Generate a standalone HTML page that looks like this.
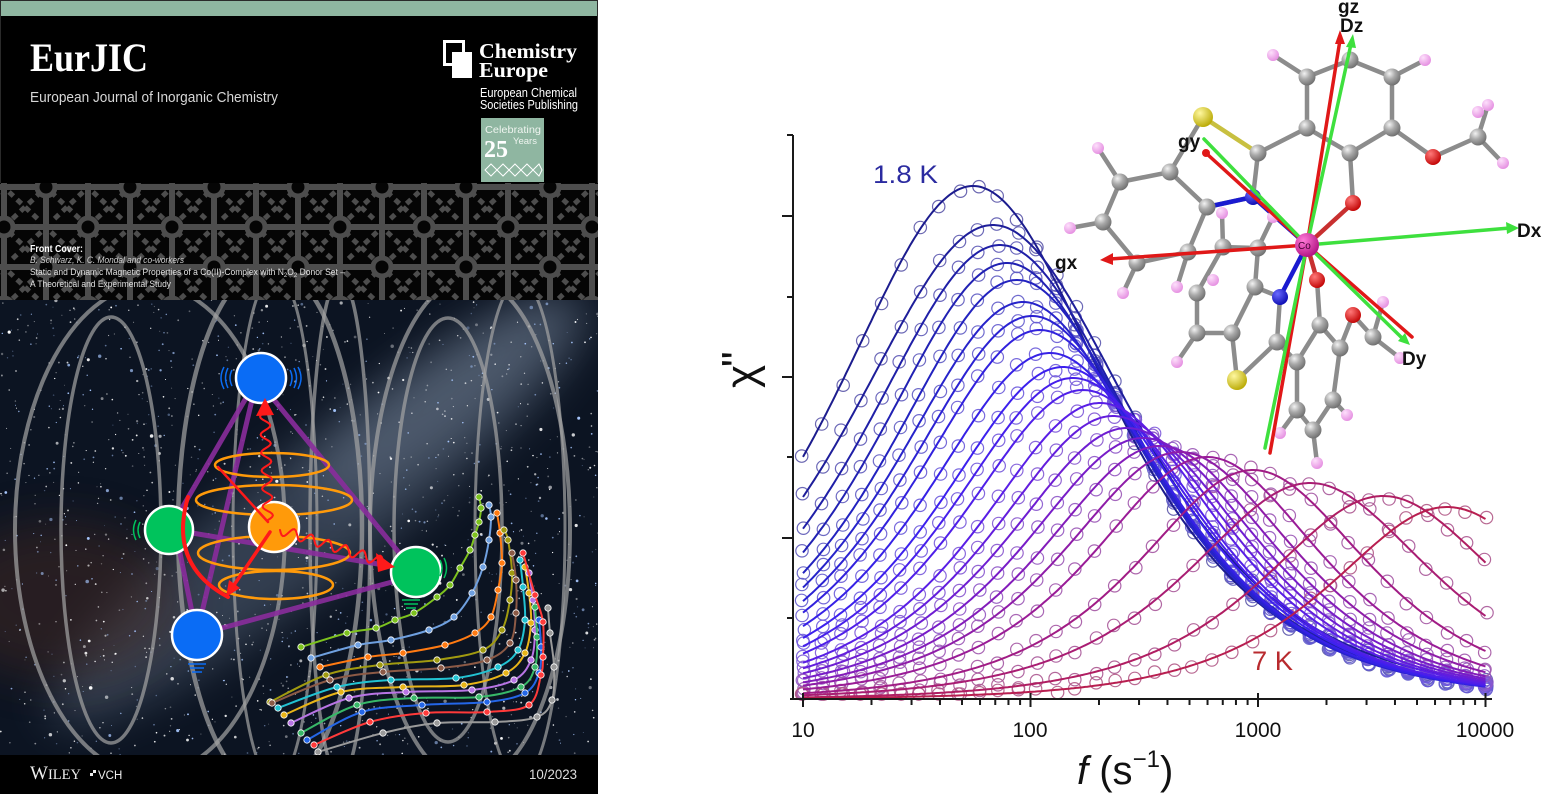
<!DOCTYPE html>
<html><head><meta charset="utf-8">
<style>
html,body{margin:0;padding:0;background:#fff;}
body{width:1547px;height:794px;overflow:hidden;}
svg{display:block;}
text{font-family:"Liberation Sans",sans-serif;}
.serif{font-family:"Liberation Serif",serif;}
</style></head><body>
<svg id="s" width="1547" height="794" viewBox="0 0 1547 794" xmlns="http://www.w3.org/2000/svg">
<defs>
 <pattern id="lat" x="4" y="187" width="84" height="80" patternUnits="userSpaceOnUse">
  <rect width="84" height="80" fill="#050505"/>
  <g stroke="#4d4d4d" stroke-width="5" stroke-dasharray="6 5" fill="none">
   <line x1="5" y1="5" x2="37" y2="35"/><line x1="37" y1="5" x2="5" y2="35"/>
   <line x1="47" y1="5" x2="79" y2="35"/><line x1="79" y1="5" x2="47" y2="35"/>
   <line x1="5" y1="45" x2="37" y2="75"/><line x1="37" y1="45" x2="5" y2="75"/>
   <line x1="47" y1="45" x2="79" y2="75"/><line x1="79" y1="45" x2="47" y2="75"/>
  </g>
  <g stroke="#4d4d4d" stroke-width="6" fill="none">
   <line x1="0" y1="0" x2="84" y2="0"/><line x1="0" y1="40" x2="84" y2="40"/><line x1="0" y1="80" x2="84" y2="80"/>
   <line x1="0" y1="0" x2="0" y2="80"/><line x1="42" y1="0" x2="42" y2="80"/><line x1="84" y1="0" x2="84" y2="80"/>
  </g>
  <g stroke="#4d4d4d" stroke-width="5" fill="#050505">
   <circle cx="0" cy="40" r="9"/><circle cx="84" cy="40" r="9"/>
   <circle cx="42" cy="0" r="9"/><circle cx="42" cy="80" r="9"/>
  </g>
 </pattern>
 <clipPath id="starclip"><rect x="0" y="300" width="598" height="455"/></clipPath>
 <filter id="blur" x="-50%" y="-50%" width="200%" height="200%"><feGaussianBlur stdDeviation="22"/></filter>
 <radialGradient id="gC" cx="35%" cy="30%" r="75%"><stop offset="0" stop-color="#f2f2f2"/><stop offset="0.45" stop-color="#a9a9a9"/><stop offset="1" stop-color="#6c6c6c"/></radialGradient>
 <radialGradient id="gH" cx="35%" cy="30%" r="75%"><stop offset="0" stop-color="#fde0fb"/><stop offset="1" stop-color="#e48ce0"/></radialGradient>
 <radialGradient id="gS" cx="35%" cy="30%" r="75%"><stop offset="0" stop-color="#fff8a0"/><stop offset="1" stop-color="#b8a800"/></radialGradient>
 <radialGradient id="gN" cx="35%" cy="30%" r="75%"><stop offset="0" stop-color="#6a6aff"/><stop offset="1" stop-color="#0a0ab0"/></radialGradient>
 <radialGradient id="gO" cx="35%" cy="30%" r="75%"><stop offset="0" stop-color="#ff7a7a"/><stop offset="1" stop-color="#c00000"/></radialGradient>
 <radialGradient id="gCo" cx="35%" cy="30%" r="75%"><stop offset="0" stop-color="#ff7ad8"/><stop offset="1" stop-color="#b01080"/></radialGradient>
</defs>

<!-- ================= COVER ================= -->
<rect x="0" y="0" width="598" height="794" fill="#000"/>
<rect x="0" y="0" width="598" height="16" fill="#8fb6a1"/>
<rect x="0.5" y="0.5" width="597" height="793" fill="none" stroke="#2a2a2a" stroke-width="1"/>
<text x="30" y="71" class="serif" font-size="40" font-weight="bold" fill="#fff" textLength="118" lengthAdjust="spacingAndGlyphs">EurJIC</text>
<text x="30" y="102" font-size="14.5" fill="#d6d6d6" textLength="248" lengthAdjust="spacingAndGlyphs">European Journal of Inorganic Chemistry</text>
<rect x="444.5" y="41.5" width="19" height="23" fill="none" stroke="#fff" stroke-width="3"/>
<rect x="452" y="52" width="20" height="26" fill="#fff"/>
<text x="479" y="58" class="serif" font-size="21" font-weight="bold" fill="#fff" textLength="98" lengthAdjust="spacingAndGlyphs">Chemistry</text>
<text x="479" y="77" class="serif" font-size="21" font-weight="bold" fill="#fff" textLength="69" lengthAdjust="spacingAndGlyphs">Europe</text>
<text x="480" y="97" font-size="12.5" fill="#fff" textLength="97" lengthAdjust="spacingAndGlyphs">European Chemical</text>
<text x="480" y="109" font-size="12.5" fill="#fff" textLength="98" lengthAdjust="spacingAndGlyphs">Societies Publishing</text>
<rect x="481" y="118" width="63" height="64" fill="#8fb6a1"/>
<text x="485" y="133" font-size="10.5" fill="#eef4ef" textLength="56" lengthAdjust="spacingAndGlyphs">Celebrating</text>
<text x="484" y="157" class="serif" font-size="24" font-weight="bold" fill="#fff">25</text>
<text x="513" y="144" font-size="9.5" fill="#eef4ef">Years</text>
<g fill="none" stroke="#fff" stroke-width="1">
 <polygon points="491,164 497,170 491,176 485,170"/><polygon points="503,164 509,170 503,176 497,170"/>
 <polygon points="515,164 521,170 515,176 509,170"/><polygon points="527,164 533,170 527,176 521,170"/>
 <polygon points="539,164 542,170 539,176 533,170"/>
</g>

<rect x="0" y="183" width="598" height="117" fill="url(#lat)"/>
<text x="30" y="252" font-size="10" font-weight="bold" fill="#fff" textLength="53" lengthAdjust="spacingAndGlyphs">Front Cover:</text>
<text x="30" y="263" font-size="9.5" font-style="italic" fill="#d0d0d0" textLength="154" lengthAdjust="spacingAndGlyphs">B. Schwarz, K. C. Mondal and co-workers</text>
<text x="30" y="275" font-size="9.2" fill="#e0e0e0" textLength="315" lengthAdjust="spacingAndGlyphs">Static and Dynamic Magnetic Properties of a Co(II)-Complex with N<tspan font-size="6.5" dy="2">2</tspan><tspan dy="-2">O</tspan><tspan font-size="6.5" dy="2">2</tspan><tspan dy="-2"> Donor Set –</tspan></text>
<text x="30" y="287" font-size="9.2" fill="#e0e0e0" textLength="141" lengthAdjust="spacingAndGlyphs">A Theoretical and Experimental Study</text>

<g clip-path="url(#starclip)">
 <rect x="0" y="300" width="598" height="455" fill="#0c1422"/>
 <ellipse cx="320" cy="510" rx="340" ry="65" transform="rotate(-38 320 510)" fill="#7d8ea6" opacity="0.35" filter="url(#blur)"/>
 <ellipse cx="440" cy="400" rx="160" ry="40" transform="rotate(-38 440 400)" fill="#9aaac0" opacity="0.25" filter="url(#blur)"/>
 <ellipse cx="60" cy="600" rx="120" ry="80" fill="#4a2c22" opacity="0.45" filter="url(#blur)"/>
 <g id="stars"></g>
 <g fill="none" stroke="#a4a4a4" stroke-opacity="0.7">
  <ellipse cx="111" cy="530" rx="50" ry="213" stroke-width="3.5"/>
  <ellipse cx="150" cy="530" rx="135" ry="245" stroke-width="4"/>
  <ellipse cx="270" cy="528" rx="92" ry="262" stroke-width="4.5"/>
  <ellipse cx="275" cy="528" rx="42" ry="255" stroke-width="3"/>
  <ellipse cx="340" cy="528" rx="30" ry="250" stroke-width="3.5"/>
  <ellipse cx="448" cy="530" rx="54" ry="212" stroke-width="3.5"/>
  <ellipse cx="470" cy="530" rx="100" ry="252" stroke-width="4"/>
  <ellipse cx="520" cy="530" rx="45" ry="250" stroke-width="3"/>
 </g>
 <g stroke="#8a2c9c" stroke-width="5" stroke-opacity="0.9" stroke-linecap="round">
  <line x1="270" y1="395" x2="405" y2="560"/>
  <line x1="252" y1="400" x2="202" y2="612"/>
  <line x1="246" y1="398" x2="182" y2="508"/>
  <line x1="180" y1="553" x2="192" y2="612"/>
  <line x1="222" y1="628" x2="392" y2="582"/>
  <line x1="192" y1="533" x2="390" y2="566"/>
 </g>
 <g fill="none" stroke="#ff9a0a" stroke-width="2.5">
  <ellipse cx="272" cy="465" rx="57" ry="12"/>
  <ellipse cx="274" cy="500" rx="78" ry="15"/>
  <ellipse cx="274" cy="553" rx="76" ry="17"/>
  <ellipse cx="276" cy="585" rx="57" ry="14"/>
 </g>
 <circle cx="261" cy="378" r="25" fill="#0a6cf5" stroke="#fff" stroke-width="2.5"/>
 <circle cx="169" cy="530" r="24" fill="#00c35c" stroke="#fff" stroke-width="2.5"/>
 <circle cx="274" cy="527" r="25" fill="#ff9a0a" stroke="#fff" stroke-width="2.5"/>
 <circle cx="416" cy="572" r="25" fill="#00c35c" stroke="#fff" stroke-width="2.5"/>
 <circle cx="197" cy="635" r="25" fill="#0a6cf5" stroke="#fff" stroke-width="2.5"/>
 <g fill="none" stroke="#0a6cf5" stroke-width="1.5">
  <path d="M232,370 q-4,8 0,16 M228,368 q-5,10 0,20 M224,367 q-6,11 0,22"/>
  <path d="M290,370 q4,8 0,16 M294,368 q5,10 0,20 M298,367 q6,11 0,22"/>
  <path d="M188,664 h18 M190,668 h14 M192,672 h10"/>
 </g>
 <g fill="none" stroke="#00c35c" stroke-width="1.5">
  <path d="M140,522 q-4,8 0,16 M136,520 q-5,10 0,20"/>
  <path d="M440,560 q4,8 0,16 M444,558 q5,10 0,20"/>
  <path d="M402,600 h18 M404,604 h14 M406,608 h10"/>
 </g>
 <g id="redfx" stroke="#ff1a1a" fill="none" stroke-linecap="round">
  <path d="M188,497 Q168,565 228,597" stroke-width="4"/>
  <line x1="270" y1="532" x2="232" y2="588" stroke-width="3.5"/>
  <line x1="268" y1="522" x2="218" y2="467" stroke-width="2.5"/>
 </g>
 <polygon points="226,597 229,580 240,588" fill="#ff1a1a"/>
 <polygon points="265,398 256,416 274,415" fill="#ff1a1a"/>
 <polygon points="395,567 376,553 378,572" fill="#ff1a1a"/>
 <g id="colcurves"></g>
</g>

<rect x="0" y="755" width="598" height="39" fill="#000"/>
<text x="30" y="779" class="serif" font-size="19" fill="#eee">W<tspan font-size="14.5">ILEY</tspan></text>
<rect x="90" y="773" width="3" height="3" fill="#eee"/><rect x="93" y="770" width="3" height="3" fill="#eee"/>
<text x="98" y="779" font-size="11.5" fill="#eee">VCH</text>
<text x="529" y="779" font-size="14" fill="#ddd" textLength="48" lengthAdjust="spacingAndGlyphs">10/2023</text>

<!-- ================= CHART ================= -->
<g id="markers"></g>
<g id="lines"></g>
<g stroke="#1a1a1a" stroke-width="2" fill="none">
 <line x1="793" y1="135" x2="793" y2="700"/>
 <line x1="790" y1="699" x2="1492" y2="699"/>
 <line x1="787" y1="135" x2="793" y2="135"/>
 <line x1="782" y1="216" x2="793" y2="216"/>
 <line x1="787" y1="297" x2="793" y2="297"/>
 <line x1="782" y1="377" x2="793" y2="377"/>
 <line x1="787" y1="457" x2="793" y2="457"/>
 <line x1="782" y1="538" x2="793" y2="538"/>
 <line x1="787" y1="618" x2="793" y2="618"/>
</g>
<g id="xticks" stroke="#1a1a1a" stroke-width="2"></g>
<g font-size="21" fill="#111" text-anchor="middle">
 <text x="803" y="737">10</text>
 <text x="1030" y="737">100</text>
 <text x="1258" y="737">1000</text>
 <text x="1485" y="737">10000</text>
</g>
<text x="1077" y="784" font-size="40" fill="#111"><tspan font-style="italic">f</tspan> (s<tspan font-size="24" dy="-17">−1</tspan><tspan dy="17">)</tspan></text>
<text transform="translate(756,388) rotate(-90)" font-size="44" fill="#111">χ</text>
<text transform="translate(752,367) rotate(-90)" font-size="44" fill="#111">"</text>
<text x="873" y="183" font-size="25" fill="#2b2ba0" textLength="65" lengthAdjust="spacingAndGlyphs">1.8 K</text>
<text x="1252" y="670" font-size="27" fill="#b82a2e" textLength="41" lengthAdjust="spacingAndGlyphs">7 K</text>

<!-- ================= MOLECULE ================= -->
<g stroke="#8c8c8c" stroke-width="4.5" stroke-linecap="round" fill="none">
 <path d="M1307,77 L1350,60 L1392,77 L1392,128 L1350,153 L1307,128 Z"/>
 <path d="M1307,128 L1258,153 M1258,153 L1253,197 M1350,153 L1353,203 M1392,128 L1433,157 L1478,137"/>
 <path d="M1253,197 L1207,207 L1170,172 L1120,182 L1103,222 L1137,263 L1188,252 L1207,207 M1170,172 L1203,117"/>
 <path d="M1280,297 L1255,287 L1258,248 L1223,247 L1197,293 L1197,333 L1232,333 L1255,287 M1232,333 L1237,380 L1277,342 L1280,297 M1277,342 L1297,362"/>
 <path d="M1297,362 L1320,325 L1340,348 L1333,400 L1313,430 L1297,410 Z M1320,325 L1317,280 M1340,348 L1353,315 L1373,337"/>
 <path d="M1307,77 L1273,55 M1392,77 L1425,60 M1478,137 L1488,105 M1478,137 L1503,163 M1120,182 L1098,148 M1103,222 L1070,228 M1137,263 L1123,293 M1188,252 L1177,287 M1223,247 L1222,213 M1258,248 L1273,217 M1197,333 L1177,362 M1373,337 L1383,302 M1373,337 L1400,358 M1333,400 L1347,415 M1297,410 L1280,433 M1313,430 L1317,463"/>
</g>
<g stroke-width="4.5" stroke-linecap="round">
 <line x1="1258" y1="153" x2="1203" y2="117" stroke="#c8c040"/>
 <line x1="1307" y1="245" x2="1253" y2="197" stroke="#1a1ad0"/>
 <line x1="1307" y1="245" x2="1353" y2="203" stroke="#c83030"/>
 <line x1="1307" y1="245" x2="1280" y2="297" stroke="#1a1ad0"/>
 <line x1="1307" y1="245" x2="1317" y2="280" stroke="#c83030"/>
 <line x1="1253" y1="197" x2="1207" y2="207" stroke="#1a1ad0"/>
</g>
<g id="atoms"></g>
<g stroke-width="3.5" stroke-linecap="round">
 <line x1="1307" y1="245" x2="1340" y2="40" stroke="#e01818"/>
 <line x1="1307" y1="245" x2="1351" y2="44" stroke="#3ee03e"/>
 <line x1="1307" y1="245" x2="1270" y2="453" stroke="#e01818"/>
 <line x1="1307" y1="245" x2="1265" y2="448" stroke="#3ee03e"/>
 <line x1="1307" y1="245" x2="1110" y2="259" stroke="#e01818"/>
 <line x1="1307" y1="245" x2="1510" y2="228" stroke="#3ee03e"/>
 <line x1="1307" y1="245" x2="1207" y2="154" stroke="#e01818"/>
 <line x1="1307" y1="245" x2="1204" y2="139" stroke="#3ee03e"/>
 <line x1="1307" y1="245" x2="1412" y2="337" stroke="#e01818"/>
 <line x1="1307" y1="245" x2="1402" y2="338" stroke="#3ee03e"/>
</g>
<polygon points="1340,30 1335,44 1345,44" fill="#e01818"/>
<polygon points="1353,34 1346,47 1356,48" fill="#3ee03e"/>
<polygon points="1100,260 1113,253 1113,265" fill="#e01818"/>
<polygon points="1519,228 1506,222 1507,234" fill="#3ee03e"/>
<polygon points="1410,345 1398,341 1405,333" fill="#3ee03e"/>
<circle cx="1206" cy="153" r="4" fill="#e01818"/>
<circle cx="1307" cy="245" r="12" fill="url(#gCo)"/>
<text x="1298" y="249" font-size="10" fill="#400030">Co</text>
<g font-size="19" font-weight="bold" fill="#111">
 <text x="1055" y="269">gx</text>
 <text x="1178" y="148">gy</text>
 <text x="1338" y="13">gz</text>
 <text x="1340" y="32">Dz</text>
 <text x="1517" y="237">Dx</text>
 <text x="1402" y="365">Dy</text>
</g>
</svg>
<script>
(function(){
var NS='http://www.w3.org/2000/svg';
function E(tag,a,p){var e=document.createElementNS(NS,tag);for(var k in a)e.setAttribute(k,a[k]);p.appendChild(e);return e;}
var seed=987654;
function rnd(){seed|=0;seed=seed+0x6D2B79F5|0;var t=Math.imul(seed^seed>>>15,1|seed);t=t+Math.imul(t^t>>>7,61|t)^t;return((t^t>>>14)>>>0)/4294967296;}
// stars
var sg=document.getElementById('stars');
for(var i=0;i<1500;i++){
 var x=rnd()*598,y=300+rnd()*455;
 var r=rnd()<0.88?0.45+rnd()*0.5:0.9+rnd()*0.9;
 E('circle',{cx:x.toFixed(1),cy:y.toFixed(1),r:r.toFixed(2),fill:rnd()<0.65?'#ffffff':'#a8c8ff','fill-opacity':(0.3+rnd()*0.7).toFixed(2)},sg);
}
// wavy red arrows
var rf=document.getElementById('redfx');
function wavy(x1,y1,x2,y2,amp,wl){
 var dx=x2-x1,dy=y2-y1,L=Math.hypot(dx,dy),nx=-dy/L,ny=dx/L,d='';
 for(var s=0;s<=L;s+=1.5){var o=amp*Math.sin(s/wl*2*Math.PI);var xx=x1+dx*s/L+nx*o,yy=y1+dy*s/L+ny*o;d+=(s===0?'M':'L')+xx.toFixed(1)+','+yy.toFixed(1);}
 return d;
}
E('path',{d:wavy(268,520,265,414,5,18),'stroke-width':2},rf);
E('path',{d:wavy(280,530,384,562,5,18),'stroke-width':2},rf);
// colourful curves
var cc=document.getElementById('colcurves');
var CUR=[
['#7dc21e',[[301,647],[347,633],[376,628],[395,620],[414,613],[437,597],[450,585],[460,568],[470,550],[475,535],[479,522],[481,508],[479,497]]],
['#6fa0e0',[[311,658],[358,645],[391,640],[429,630],[454,617],[472,593],[483,567],[489,540],[491,517],[489,505]]],
['#ff7a12',[[320,667],[368,657],[403,653],[445,645],[475,633],[491,617],[498,590],[502,563],[500,533],[497,513]]],
['#a09a10',[[270,702],[326,675],[380,665],[437,660],[483,650],[502,630],[510,600],[512,573],[508,540],[504,530]]],
['#8c5a46',[[272,703],[330,680],[383,672],[441,668],[487,660],[510,643],[516,613],[516,580],[512,553]]],
['#22c2d2',[[278,708],[337,687],[391,680],[456,678],[498,667],[518,650],[525,620],[523,587],[520,560]]],
['#e8b418',[[284,715],[341,692],[403,687],[464,685],[506,673],[525,653],[531,623],[529,593],[525,567]]],
['#b874e4',[[291,723],[349,698],[406,692],[472,690],[514,680],[531,660],[535,630],[533,600],[529,573]]],
['#38b868',[[301,733],[357,705],[414,698],[479,697],[521,687],[535,667],[537,637],[535,607]]],
['#2466e8',[[307,740],[362,712],[422,705],[487,702],[525,693],[539,673],[541,647],[539,620]]],
['#ff3a3a',[[314,745],[370,722],[426,713],[487,712],[529,705],[541,675],[543,657],[543,622],[535,595],[523,553]]],
['#9a9a9a',[[318,752],[383,733],[437,723],[495,722],[537,717],[552,700],[554,667],[550,633],[548,608]]]
];
function cr(p){var d='M'+p[0][0]+','+p[0][1];for(var i=0;i<p.length-1;i++){var p0=p[i-1]||p[i],p1=p[i],p2=p[i+1],p3=p[i+2]||p2;
 var c1=[p1[0]+(p2[0]-p0[0])/6,p1[1]+(p2[1]-p0[1])/6],c2=[p2[0]-(p3[0]-p1[0])/6,p2[1]-(p3[1]-p1[1])/6];
 d+=' C'+c1[0].toFixed(1)+','+c1[1].toFixed(1)+' '+c2[0].toFixed(1)+','+c2[1].toFixed(1)+' '+p2[0]+','+p2[1];}return d;}
CUR.forEach(function(c){
 E('path',{d:cr(c[1]),fill:'none',stroke:c[0],'stroke-width':2},cc);
 c[1].forEach(function(p){E('circle',{cx:p[0],cy:p[1],r:3.2,fill:c[0],stroke:'#fff','stroke-width':0.8},cc);});
});
// chart
function X(lf){return 803+(lf-1)*227.5;}
var xt=document.getElementById('xticks');
for(var d=1;d<=4;d++){E('line',{x1:X(d),y1:693,x2:X(d),y2:707},xt);
 if(d<4)for(var k=2;k<=9;k++){var xx=X(d+Math.log10(k));E('line',{x1:xx,y1:699,x2:xx,y2:705},xt);}}
var C=[[973,186,.13],[993,225,.15],[1000,245,.12],[1007,263,.10],[1017,280,.09],[1023,302,.085],[1032,316,.08],[1040,330,.075],[1050,353,.07],[1063,367,.065],[1073,378,.06],[1083,390,.055],[1100,403,.05],[1113,416,.05],[1127,428,.05],[1143,438,.045],[1160,446,.04],[1180,452,.04],[1207,457,.03],[1253,470,.03],[1310,483,.06],[1383,496,.05],[1447,507,.04]];
var stops=[[0,[28,28,142]],[0.2,[35,35,196]],[0.4,[58,32,238]],[0.55,[90,30,230]],[0.7,[124,28,196]],[0.82,[154,28,150]],[1,[184,30,80]]];
function col(t){for(var i=0;i<stops.length-1;i++){var a=stops[i],b=stops[i+1];if(t<=b[0]){var f=(t-a[0])/(b[0]-a[0]);return a[1].map(function(v,j){return Math.round(v+(b[1][j]-v)*f);});}}return stops[stops.length-1][1];}
function rgb(c){return 'rgb('+c.join(',')+')';}
var mk=document.getElementById('markers'),ln=document.getElementById('lines');
C.forEach(function(c,i){
 var lfp=1+(c[0]-803)/227.5,H=699-c[1],a=c[2],b=1-a,s=Math.sin(a*Math.PI/2),co=Math.cos(a*Math.PI/2),gm=co/(2+2*s);
 function Y(lf){var ub=Math.pow(Math.pow(10,lf-lfp),b);return 699-H*(ub*co/(1+2*ub*s+ub*ub))/gm;}
 var cl=col(i/(C.length-1));
 var mix=[168,160,200];
 var mc=cl.map(function(v,j){return Math.round(v*0.55+mix[j]*0.45);});
 var dd='';for(var lf=1;lf<=4.0001;lf+=0.01){dd+=(dd?'L':'M')+X(lf).toFixed(1)+','+Y(lf).toFixed(1);}
 E('path',{d:dd,fill:'none',stroke:rgb(cl),'stroke-width':2},ln);
 for(var k=0;k<36;k++){var l2=1+k*3/35;var px=X(l2)+(rnd()-0.5)*3,py=Y(l2)+(rnd()-0.5)*7;
  E('circle',{cx:px.toFixed(1),cy:Math.min(py,694).toFixed(1),r:6.2,fill:'none',stroke:rgb(mc),'stroke-width':1.2,'stroke-opacity':0.9},mk);}
});
// atoms
var at=document.getElementById('atoms');
var A=[
['C',1307,77],['C',1350,60],['C',1392,77],['C',1392,128],['C',1350,153],['C',1307,128],['C',1258,153],['S',1203,117],['N',1253,197],['O',1353,203],['O',1433,157],['C',1478,137],
['C',1207,207],['C',1170,172],['C',1120,182],['C',1103,222],['C',1137,263],['C',1188,252],
['N',1280,297],['C',1255,287],['C',1258,248],['C',1223,247],['C',1197,293],['C',1197,333],['C',1232,333],['S',1237,380],['C',1277,342],['C',1297,362],['O',1317,280],['C',1320,325],['C',1340,348],['O',1353,315],['C',1373,337],['C',1333,400],['C',1297,410],['C',1313,430],
['H',1273,55],['H',1425,60],['H',1488,105],['H',1503,163],['H',1478,112],['H',1098,148],['H',1070,228],['H',1123,293],['H',1177,287],['H',1222,213],['H',1273,217],['H',1213,280],['H',1177,362],['H',1383,302],['H',1400,358],['H',1347,415],['H',1280,433],['H',1317,463]
];
var R={C:8.5,H:6,S:10,N:8,O:8},G={C:'gC',H:'gH',S:'gS',N:'gN',O:'gO'};
A.filter(function(a){return a[0]==='H';}).concat(A.filter(function(a){return a[0]!=='H';})).forEach(function(a){E('circle',{cx:a[1],cy:a[2],r:R[a[0]],fill:'url(#'+G[a[0]]+')'},at);});
})();
</script>
</body></html>
